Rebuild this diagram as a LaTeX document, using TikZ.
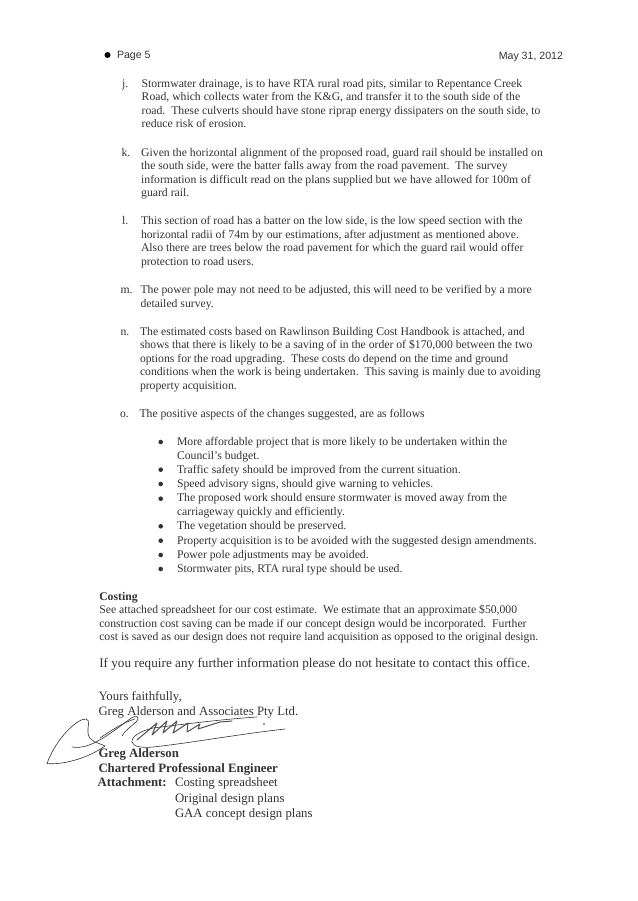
\documentclass[tikz,border=0pt]{standalone}
\usepackage{fontspec}
\setmainfont{Liberation Serif}
\newfontfamily\hdfont{Liberation Sans}
\definecolor{ink}{gray}{0.2}
\tikzset{
 tl/.style={anchor=base west,inner sep=0pt,outer sep=0pt,text=ink,font=\fontsize{11.7}{14}\selectfont},
 bl/.style={tl,font=\fontsize{11.7}{14}\selectfont\bfseries},
 big/.style={tl,font=\fontsize{13.2}{15}\selectfont},
 sg/.style={tl,font=\fontsize{12.8}{15}\selectfont},
 sgb/.style={tl,font=\fontsize{12.8}{15}\selectfont\bfseries},
 hd/.style={tl,font=\hdfont\fontsize{10.6}{13}\selectfont},
 sig/.style={draw=ink,line width=0.6pt,line cap=round,line join=round},
 sigthick/.style={draw=ink!85,line width=1pt,line cap=round,line join=round},
 dot/.style={circle,fill=ink,inner sep=0pt,minimum size=4.6pt},
 hdot/.style={circle,fill=black,inner sep=0pt,minimum size=6pt}
}
\begin{document}
\begin{tikzpicture}[x=1pt,y=-1pt]
\useasboundingbox (0,0) rectangle (637,901);
\fill[white] (0,0) rectangle (637,901);
\node[hdot] (hb) at (107.5,55) {};
\node[hd] (h1) at (117,59) {Page 5};
\node[hd,anchor=base east] (h2) at (563,60) {May 31, 2012};
% j
\node[tl] (jl) at (122,87.3) {j.};
\node[tl] (j1) at (141.7,87.3) {Stormwater drainage, is to have RTA rural road pits, similar to Repentance Creek};
\node[tl] (j2) at (141.7,100.8) {Road, which collects water from the K\&G, and transfer it to the south side of the};
\node[tl] (j3) at (141.7,114.3) {road.\ \ These culverts should have stone riprap energy dissipaters on the south side, to};
\node[tl] (j4) at (141.7,127.6) {reduce risk of erosion.};
% k
\node[tl] (kl) at (121.5,156.5) {k.};
\node[tl] (k1) at (141.2,156.5) {Given the horizontal alignment of the proposed road, guard rail should be installed on};
\node[tl] (k2) at (141.2,170) {the south side, were the batter falls away from the road pavement.\ \ The survey};
\node[tl] (k3) at (141.2,183.4) {information is difficult read on the plans supplied but we have allowed for 100m of};
\node[tl] (k4) at (141.2,196.8) {guard rail.};
% l
\node[tl] (ll) at (122,224.4) {l.};
\node[tl] (l1) at (141,224.4) {This section of road has a batter on the low side, is the low speed section with the};
\node[tl] (l2) at (141,238) {horizontal radii of 74m by our estimations, after adjustment as mentioned above.};
\node[tl] (l3) at (141,251.6) {Also there are trees below the road pavement for which the guard rail would offer};
\node[tl] (l4) at (141,265.2) {protection to road users.};
% m
\node[tl] (ml) at (120.6,293.4) {m.};
\node[tl] (m1) at (140.5,293.4) {The power pole may not need to be adjusted, this will need to be verified by a more};
\node[tl] (m2) at (140.5,307) {detailed survey.};
% n
\node[tl] (nl) at (120.5,335) {n.};
\node[tl] (n1) at (140,335) {The estimated costs based on Rawlinson Building Cost Handbook is attached, and};
\node[tl] (n2) at (140,348.6) {shows that there is likely to be a saving of in the order of \$170,000 between the two};
\node[tl] (n3) at (140,362.1) {options for the road upgrading.\ \ These costs do depend on the time and ground};
\node[tl] (n4) at (140,375.6) {conditions when the work is being undertaken.\ \ This saving is mainly due to avoiding};
\node[tl] (n5) at (140,389) {property acquisition.};
% o
\node[tl] (ol) at (120,417.3) {o.};
\node[tl] (o1) at (139.5,417.3) {The positive aspects of the changes suggested, are as follows};
% bullets
\foreach \n/\y in {a/442,b/469.7,c/484,d/498.7,e/526.3,f/540.7,g/555,h/569}{
  \node[dot] (dot\n) at (160.7,\y) {};
}
\node[tl] (b1) at (177,445.2) {More affordable project that is more likely to be undertaken within the};
\node[tl] (b1b) at (177,459) {Council's budget.};
\node[tl] (b2) at (177,473) {Traffic safety should be improved from the current situation.};
\node[tl] (b3) at (177,487.3) {Speed advisory signs, should give warning to vehicles.};
\node[tl] (b4) at (177,501.6) {The proposed work should ensure stormwater is moved away from the};
\node[tl] (b4b) at (177,515.3) {carriageway quickly and efficiently.};
\node[tl] (b5) at (177,529.6) {The vegetation should be preserved.};
\node[tl] (b6) at (177,544) {Property acquisition is to be avoided with the suggested design amendments.};
\node[tl] (b7) at (177,558.2) {Power pole adjustments may be avoided.};
\node[tl] (b8) at (177,572.3) {Stormwater pits, RTA rural type should be used.};
% costing
\node[bl] (c0) at (99.3,600) {Costing};
\node[tl] (c1) at (99.3,613.4) {See attached spreadsheet for our cost estimate.\ \ We estimate that an approximate \$50,000};
\node[tl] (c2) at (99.3,627) {construction cost saving can be made if our concept design would be incorporated.\ \ Further};
\node[tl] (c3) at (99.3,640.4) {cost is saved as our design does not require land acquisition as opposed to the original design.};
\node[big] (q) at (99.3,667.8) {If you require any further information please do not hesitate to contact this office.};
\node[sg] (y1) at (98.5,700) {Yours faithfully,};
\node[sg] (y2) at (98.5,715) {Greg Alderson and Associates Pty Ltd.};
\node[sgb] (s1) at (98.5,757.3) {Greg Alderson};
\node[sgb] (s2) at (98.5,772) {Chartered Professional Engineer};
\node[sgb] (s3) at (97.7,786.8) {Attachment:};
\node[sg] (a1) at (175,786.8) {Costing spreadsheet};
\node[sg] (a2) at (175,802) {Original design plans};
\node[sg] (a3) at (175,817) {GAA concept design plans};
% signature: big loop with tail
\draw[sig] (47,763.5) .. controls (60,765) and (85,760) .. (105,746)
  .. controls (97,742) and (89,742) .. (88,733)
  .. controls (87,727) and (91,720) .. (86,719)
  .. controls (78,718) and (56,738) .. (47,763.5);
\draw[sig] (72,747) .. controls (90,750) and (108,735) .. (130,719)
  .. controls (136,714) and (141,717) .. (136,722)
  .. controls (130,727) and (124,732) .. (122,736);
\draw[sig] (100,738) .. controls (112,730) and (124,722) .. (135,719);
% written name
\draw[sigthick] (137,740) -- (157,723) -- (152,735) -- (167,721) -- (163,733)
  -- (177,721) -- (173,733) -- (188,723) -- (187,732) -- (200,724) -- (198,729)
  -- (220,722) -- (232,721);
% long stroke under the name
\draw[sig] (257,717) .. controls (225,719) and (185,724) .. (153,728)
  .. controls (140,731) and (131,737) .. (132,742)
  .. controls (133,747) and (143,748) .. (153,747)
  .. controls (190,743) and (240,734) .. (285,729);
\fill[ink] (264,724) circle (0.9);
\end{tikzpicture}
\end{document}
